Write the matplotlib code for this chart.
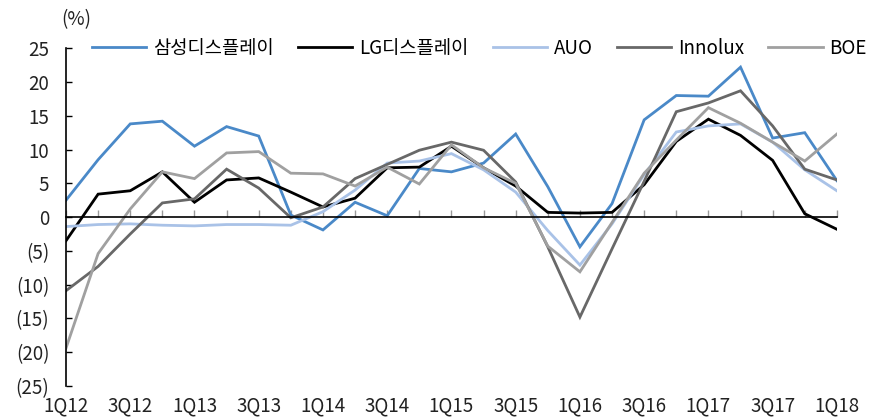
import matplotlib
matplotlib.use("Agg")
import matplotlib.pyplot as plt
import numpy as np

plt.rcParams["font.family"] = ["Noto Sans CJK KR", "DejaVu Sans"]
plt.rcParams["font.weight"] = "light"

# ─── Daten ────────────────────────────────────────────────────────────────────
quarters = ["1Q12", "2Q12", "3Q12", "4Q12", "1Q13", "2Q13", "3Q13", "4Q13",
            "1Q14", "2Q14", "3Q14", "4Q14", "1Q15", "2Q15", "3Q15", "4Q15",
            "1Q16", "2Q16", "3Q16", "4Q16", "1Q17", "2Q17", "3Q17", "4Q17",
            "1Q18"]

samsung = [2.5, 8.5, 13.8, 14.2, 10.5, 13.4, 12.0, 0.3, -1.9, 2.2, 0.2, 7.2,
           6.7, 8.0, 12.3, 4.5, -4.4, 2.0, 14.4, 18.0, 17.9, 22.2, 11.7, 12.5,
           5.4]
lgd = [-3.5, 3.4, 3.9, 6.7, 2.2, 5.5, 5.8, 3.7, 1.5, 2.8, 7.3, 7.4,
       10.5, 7.3, 4.6, 0.7, 0.6, 0.7, 4.8, 11.2, 14.5, 12.1, 8.4, 0.5,
       -1.8]
auo = [-1.4, -1.1, -1.0, -1.2, -1.3, -1.1, -1.1, -1.2, 0.8, 4.0, 8.0, 8.3,
       9.4, 7.0, 3.7, -2.0, -7.1, -1.0, 6.3, 12.6, 13.5, 13.8, 11.1, 7.0,
       3.9]
innolux = [-10.9, -7.3, -2.5, 2.1, 2.7, 7.1, 4.3, -0.1, 1.5, 5.7, 7.8, 9.9,
           11.1, 9.9, 5.2, -4.4, -14.8, -4.7, 5.3, 15.6, 16.9, 18.7, 13.5, 7.1,
           5.5]
boe = [-19.4, -5.4, 1.2, 6.7, 5.7, 9.5, 9.7, 6.5, 6.4, 4.6, 7.4, 4.9,
       10.7, 7.3, 5.0, -4.3, -8.1, -0.8, 6.5, 11.4, 16.2, 13.9, 11.1, 8.3,
       12.3]

series = [
    ("삼성디스플레이", samsung, "#4a89c8"),
    ("LG디스플레이", lgd, "#000000"),
    ("AUO", auo, "#a9c2e7"),
    ("Innolux", innolux, "#686868"),
    ("BOE", boe, "#a0a0a0"),
]

FS = 13.5
TXT = "#222222"

# ─── Plot ─────────────────────────────────────────────────────────────────────
fig = plt.figure(figsize=(8.8, 4.18), dpi=100)
ax = fig.add_axes([0.075, 0.0766, 0.876, 0.808])

x = np.arange(len(quarters))
for name, vals, col in series:
    ax.plot(x, vals, color=col, lw=2.0, label=name, solid_joinstyle="miter")

ax.set_xlim(0, len(quarters) - 1)
ax.set_ylim(-25, 25)

yt = np.arange(-25, 30, 5)
ax.set_yticks(yt)
ax.set_yticklabels([f"({abs(v)})" if v < 0 else f"{v}" for v in yt])
ax.tick_params(axis="y", direction="in", length=4, width=1, labelsize=FS,
               pad=12, colors="#000000", labelcolor=TXT)

# x-Achse auf der Nulllinie, Beschriftungen unten
for s in ("top", "right"):
    ax.spines[s].set_visible(False)
ax.spines["bottom"].set_position(("data", 0))
ax.spines["left"].set_linewidth(1.2)
ax.spines["bottom"].set_linewidth(1.2)
ax.set_xticks(x)
ax.tick_params(axis="x", direction="in", length=5, width=1, color="#999999",
               labelbottom=False)

sec = ax.secondary_xaxis("bottom")
sec.set_xticks(x[::2], [quarters[i] for i in x[::2]])
sec.tick_params(length=0, labelsize=FS, pad=7, labelcolor=TXT)
sec.spines["bottom"].set_visible(False)

fig.text(0.087, 0.952, "(%)", ha="center", va="center", fontsize=FS,
         color=TXT)

ax.legend(loc="center", bbox_to_anchor=(0.536, 1.0), ncol=5, frameon=False,
          fontsize=FS, handlelength=2.9, handletextpad=0.35,
          columnspacing=1.3, borderaxespad=0)

fig.savefig("out.png", dpi=100)
